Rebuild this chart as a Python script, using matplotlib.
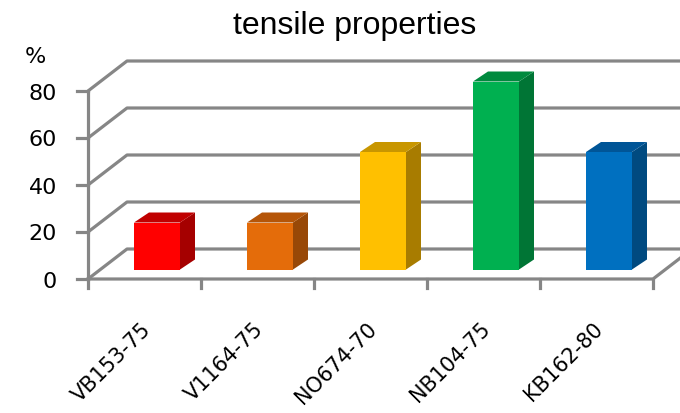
import matplotlib
matplotlib.use("Agg")
import matplotlib.pyplot as plt
from matplotlib.patches import Polygon

# data
categories = ["VB153-75", "V1164-75", "NO674-70", "NB104-75", "KB162-80"]
values = [20, 20, 50, 80, 50]
front_colors = ["#FF0000", "#E46C0A", "#FFC000", "#00B050", "#0070C0"]
side_colors = ["#A50000", "#984807", "#A87C00", "#007535", "#004A80"]
top_colors = ["#C00000", "#B55508", "#C89600", "#008A3E", "#005597"]
yticks = [0, 20, 40, 60, 80]

W, H = 680, 414
fig = plt.figure(figsize=(W / 100, H / 100), dpi=100)

# front plot box in pixels: x 88..653, y 280 (0) .. 92 (80)
x0, x1, yb, yt = 88, 653, 280, 92
ax = fig.add_axes([x0 / W, (H - yb) / H, (x1 - x0) / W, (yb - yt) / H])
ax.set_xlim(0, len(categories))
ax.set_ylim(0, 80)
ax.axis("off")

# pixel -> data unit conversion
px_x = len(categories) / (x1 - x0)
px_y = 80 / (yb - yt)

# 3d depth of the wall
DX = 39 * px_x
DY = 30 * px_y

grid = "#868686"
lw = 2.3

# back wall + side wall grid lines
for v in yticks:
    ax.plot([0, DX, len(categories) + DX], [v, v + DY, v + DY],
            color=grid, lw=lw, clip_on=False, solid_capstyle="butt", zorder=1)
    ax.plot([-11 * px_x, 0], [v, v], color=grid, lw=lw, clip_on=False, zorder=1)
    ax.text(-31 * px_x, v - 1.5 * px_y, str(v), ha="right", va="center",
            fontsize=16, family="DejaVu Sans", clip_on=False)

# front edges of the floor + left axis
ax.plot([0, len(categories), len(categories) + DX], [0, 0, DY],
        color=grid, lw=lw, clip_on=False, zorder=1)
ax.plot([0, 0], [0, 80], color=grid, lw=lw, clip_on=False, zorder=1)
for i in range(len(categories) + 1):
    ax.plot([i, i], [0, -9 * px_y], color=grid, lw=lw, clip_on=False, zorder=1)

# bars
bw = 46 * px_x
fx, fy = 12.5 * px_x, 9.5 * px_y   # offset of bar front from floor front
bx, by = 15 * px_x, 10 * px_y      # bar depth
for i, v in enumerate(values):
    l = i + 0.5 - bw / 2 + fx
    r = l + bw
    b = fy
    t = v + fy
    front = Polygon([(l, b), (r, b), (r, t), (l, t)], closed=True,
                    facecolor=front_colors[i], edgecolor="none", zorder=3, clip_on=False)
    side = Polygon([(r, b), (r + bx, b + by), (r + bx, t + by), (r, t)], closed=True,
                   facecolor=side_colors[i], edgecolor="none", zorder=3, clip_on=False)
    top = Polygon([(l, t), (r, t), (r + bx, t + by), (l + bx, t + by)], closed=True,
                  facecolor=top_colors[i], edgecolor="none", zorder=3, clip_on=False)
    ax.add_patch(side)
    ax.add_patch(top)
    ax.add_patch(front)

# category labels
for i, c in enumerate(categories):
    ax.text(i + 0.5 + 3 * px_x, -46 * px_y, c, rotation=45, rotation_mode="anchor",
            ha="right", va="center", fontsize=15, family="DejaVu Sans", clip_on=False)

fig.text(355 / W, 1 - 26 / H, "tensile properties", ha="center", va="center",
         fontsize=23, family="Liberation Sans")
fig.text(35 / W, 1 - 57 / H, "%", ha="center", va="center",
         fontsize=16, family="DejaVu Sans")

fig.savefig("out.png", dpi=100)
